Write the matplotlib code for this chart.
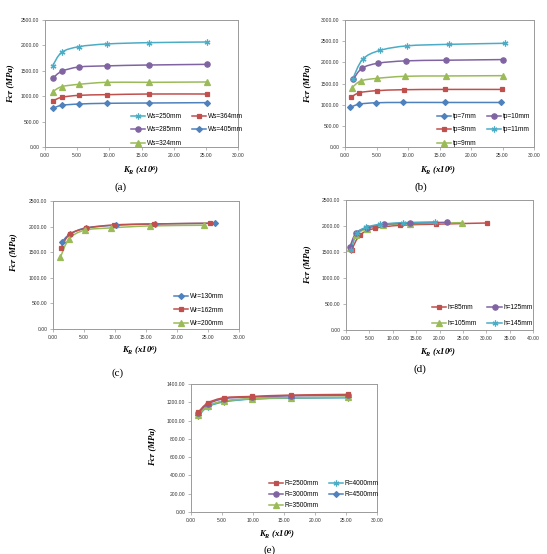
import numpy as np
import matplotlib
matplotlib.use("Agg")
import matplotlib.pyplot as plt
from matplotlib.path import Path
from matplotlib.patches import PathPatch
from matplotlib.lines import Line2D
from matplotlib.ticker import FormatStrFormatter, MultipleLocator

plt.rcParams['mathtext.fontset'] = 'custom'
plt.rcParams['mathtext.it'] = 'Liberation Serif:italic:bold'
plt.rcParams['mathtext.rm'] = 'Liberation Serif:italic:bold'
plt.rcParams['mathtext.bf'] = 'Liberation Serif:italic:bold'

# ---------------- data ----------------
# (a) web width Ws
a_labels = ["Ws=250mm", "Ws=285mm", "Ws=324mm", "Ws=364mm", "Ws=405mm"]
a_x = [1.2, 2.6, 5.3, 9.6, 16.1, 25.2]
a_y250 = [1601, 1864, 1975, 2028, 2054, 2067]
a_y285 = [1352, 1490, 1575, 1597, 1614, 1627]
a_y324 = [1089, 1188, 1234, 1273, 1273, 1280]
a_y364 = [906, 978, 1017, 1030, 1043, 1043]
a_y405 = [761, 820, 846, 860, 866, 873]

# (b) plate thickness tp
b_labels = ["tp=7mm", "tp=8mm", "tp=9mm", "tp=10mm", "tp=11mm"]
b_x7 = [0.85, 2.3, 4.9, 9.2, 15.8, 24.8]
b_y7 = [940, 1013, 1045, 1052, 1052, 1052]
b_x8 = [1.0, 2.3, 5.0, 9.3, 15.8, 24.9]
b_y8 = [1180, 1282, 1330, 1353, 1360, 1360]
b_x9 = [1.1, 2.5, 5.0, 9.5, 16.0, 25.0]
b_y9 = [1400, 1560, 1620, 1670, 1678, 1685]
b_x10 = [1.3, 2.7, 5.3, 9.7, 16.1, 25.1]
b_y10 = [1595, 1860, 1980, 2035, 2050, 2065]
b_x11 = [1.2, 2.8, 5.5, 9.9, 16.5, 25.4]
b_y11 = [1600, 2070, 2280, 2390, 2425, 2450]

# (c) flange width Wr
c_labels = ["Wr=130mm", "Wr=162mm", "Wr=200mm"]
c_x130 = [1.5, 2.7, 5.3, 10.1, 16.5, 26.2]
c_y130 = [1708, 1850, 1975, 2026, 2052, 2065]
c_x162 = [1.3, 2.7, 5.4, 9.8, 16.3, 25.4]
c_y162 = [1590, 1850, 1967, 2032, 2052, 2065]
c_x200 = [1.2, 2.6, 5.1, 9.3, 15.6, 24.3]
c_y200 = [1403, 1760, 1929, 1974, 2013, 2026]

# (d) stiffener height h
d_labels = ["h=85mm", "h=105mm", "h=125mm", "h=145mm"]
d_x85 = [1.2, 3.0, 6.2, 11.5, 19.2, 30.2]
d_y85 = [1540, 1827, 1955, 2013, 2035, 2058]
d_x105 = [0.85, 2.1, 4.4, 8.0, 13.7, 24.9]
d_y105 = [1580, 1833, 1942, 2013, 2045, 2064]
d_x125 = [0.85, 2.1, 4.4, 8.2, 13.7, 21.5]
d_y125 = [1600, 1859, 1962, 2032, 2058, 2070]
d_x145 = [1.1, 2.3, 4.3, 7.3, 12.2, 19.0]
d_y145 = [1540, 1859, 1974, 2032, 2064, 2077]

# (e) radius R
e_labels = ["R=2500mm", "R=3000mm", "R=3500mm", "R=4000mm", "R=4500mm"]
e_x = [1.2, 2.7, 5.4, 9.8, 16.2, 25.3]
e_y2500 = [1094, 1192, 1250, 1264, 1279, 1286]
e_y3000 = [1085, 1180, 1240, 1258, 1270, 1278]
e_y3500 = [1060, 1160, 1215, 1240, 1250, 1256]
e_y4000 = [1050, 1150, 1205, 1235, 1245, 1250]
e_y4500 = [1060, 1155, 1210, 1237, 1248, 1253]

# ---------------- styles ----------------
BLUE, RED, GREEN, PURPLE, CYAN = "#4F81BD", "#C0504D", "#9BBB59", "#8064A2", "#4BACC6"
STY = {
    "blue": dict(color=BLUE, marker="D", ms=3.0),
    "red": dict(color=RED, marker="s", ms=3.5),
    "green": dict(color=GREEN, marker="^", ms=3.8),
    "purple": dict(color=PURPLE, marker="o", ms=3.8),
    "cyan": dict(color=CYAN, marker=(6, 2, 0), ms=4.2),
}

W, H = 547, 554
fig = plt.figure(figsize=(W / 100, H / 100), dpi=100)
fig.patch.set_facecolor("white")


def make_ax(l, t, r, b, xmax, xstep, ymax, ystep):
    ax = fig.add_axes([l / W, 1 - b / H, (r - l) / W, (b - t) / H])
    ax.set_xlim(0, xmax)
    ax.set_ylim(0, ymax)
    ax.xaxis.set_major_locator(MultipleLocator(xstep))
    ax.yaxis.set_major_locator(MultipleLocator(ystep))
    ax.xaxis.set_major_formatter(FormatStrFormatter("%.2f"))
    ax.yaxis.set_major_formatter(FormatStrFormatter("%.2f"))
    for s in ax.spines.values():
        s.set_color("#9a9a9a")
        s.set_linewidth(0.7)
    ax.tick_params(labelsize=3.6, length=2, width=0.5, color="#9a9a9a",
                   labelcolor="#333333", pad=2)
    for lab in ax.get_xticklabels() + ax.get_yticklabels():
        lab.set_fontfamily("Liberation Sans")
    return ax


def smooth(ax, x, y, color):
    p = np.column_stack([x, y]).astype(float)
    n = len(p)
    verts = [p[0]]
    codes = [Path.MOVETO]
    for i in range(n - 1):
        p0 = p[i - 1] if i > 0 else p[i]
        p3 = p[i + 2] if i + 2 < n else p[i + 1]
        c1 = p[i] + (p[i + 1] - p0) / 6.0
        c2 = p[i + 1] - (p3 - p[i]) / 6.0
        verts += [c1, c2, p[i + 1]]
        codes += [Path.CURVE4] * 3
    ax.add_patch(PathPatch(Path(verts, codes), fill=False, edgecolor=color, lw=1.1, zorder=2))


def series(ax, x, y, key):
    st = STY[key]
    smooth(ax, x, y, st["color"])
    ax.plot(x, y, ls="none", marker=st["marker"], ms=st["ms"], color=st["color"],
            mec=st["color"], mew=0.9, zorder=3)


def handle(key):
    st = STY[key]
    return Line2D([], [], color=st["color"], lw=1.1, marker=st["marker"], ms=st["ms"],
                  mec=st["color"], mew=0.9)


def legend(ax, keys, labels, ncol, x0, y0, ls):
    ax.legend([handle(k) for k in keys], labels, ncol=ncol, frameon=False,
              loc="upper left", bbox_to_anchor=(x0, y0),
              handlelength=2.2, handletextpad=0.2, columnspacing=1.6,
              labelspacing=ls, borderpad=0, borderaxespad=0,
              prop={"family": "Liberation Sans", "size": 4.7})


def labels(ax, xl_x, xl_y, yl_x, yl_y, cap, cap_x, cap_y):
    fig.text(xl_x / W, 1 - xl_y / H, r"$K_R$ (x10$^6$)", ha="center", va="center",
             fontsize=6.3, family="Liberation Serif", style="italic", weight="bold")
    fig.text(yl_x / W, 1 - yl_y / H, "Fcr (MPa)", ha="center", va="center", rotation=90,
             fontsize=6.3, family="Liberation Serif", style="italic", weight="bold")
    fig.text(cap_x / W, 1 - cap_y / H, cap, ha="center", va="center",
             fontsize=8, family="Liberation Serif")


# (a)
ax = make_ax(45, 20, 238, 147, 30, 5, 2500, 500)
series(ax, a_x, a_y250, "cyan")
series(ax, a_x, a_y285, "purple")
series(ax, a_x, a_y324, "green")
series(ax, a_x, a_y364, "red")
series(ax, a_x, a_y405, "blue")
legend(ax, ["cyan", "purple", "green", "red", "blue"], a_labels, 2,
       (131 - 45) / 193, (147 - 113) / 127, 0.98)
labels(ax, 141, 171, 10, 84, "(a)", 121, 187)

# (b)
ax = make_ax(345, 20, 534, 147, 30, 5, 3000, 500)
series(ax, b_x7, b_y7, "blue")
series(ax, b_x8, b_y8, "red")
series(ax, b_x9, b_y9, "green")
series(ax, b_x10, b_y10, "purple")
series(ax, b_x11, b_y11, "cyan")
legend(ax, ["blue", "red", "green", "purple", "cyan"], b_labels, 2,
       (437 - 345) / 189, (147 - 113) / 127, 0.98)
labels(ax, 438, 171, 307, 84, "(b)", 421, 187)

# (c)
ax = make_ax(53, 201, 239, 329, 30, 5, 2500, 500)
series(ax, c_x130, c_y130, "blue")
series(ax, c_x162, c_y162, "red")
series(ax, c_x200, c_y200, "green")
legend(ax, ["blue", "red", "green"], c_labels, 1,
       (174 - 53) / 186, (329 - 293) / 128, 1.02)
labels(ax, 140, 351, 13, 253, "(c)", 118, 373)

# (d)
ax = make_ax(346, 200, 533, 330, 40, 5, 2500, 500)
series(ax, d_x85, d_y85, "red")
series(ax, d_x105, d_y105, "green")
series(ax, d_x125, d_y125, "purple")
series(ax, d_x145, d_y145, "cyan")
legend(ax, ["red", "green", "purple", "cyan"], d_labels, 2,
       (432 - 346) / 187, (330 - 304) / 130, 1.35)
labels(ax, 438, 353, 307, 265, "(d)", 420, 369)

# (e)
ax = make_ax(191, 384, 377, 512, 30, 5, 1400, 200)
series(ax, e_x, e_y4500, "blue")
series(ax, e_x, e_y4000, "cyan")
series(ax, e_x, e_y3500, "green")
series(ax, e_x, e_y3000, "purple")
series(ax, e_x, e_y2500, "red")
legend(ax, ["red", "purple", "green", "cyan", "blue"], e_labels, 2,
       (269 - 191) / 186, (512 - 480) / 128, 0.65)
labels(ax, 277, 535, 152, 447, "(e)", 270, 550)

fig.savefig("out.png", dpi=100, facecolor="white")
